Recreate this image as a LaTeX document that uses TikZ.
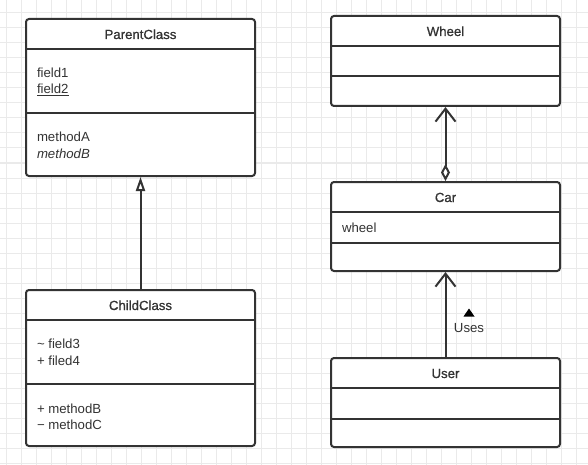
\documentclass[tikz,border=0pt]{standalone}
\usepackage{fontspec}
\setmainfont{Liberation Sans}
\newfontfamily\titlefont[FakeBold=0.8]{Liberation Sans}
\usepackage{xcolor}
\usepackage{tikz}
\usetikzlibrary{arrows.meta}
\usetikzlibrary{positioning}

\definecolor{umlgray}{RGB}{51,51,51}
\definecolor{gridgray}{RGB}{234,234,234}

\begin{document}
\begin{tikzpicture}[
  x=1pt, y=-1pt,
  line width=2pt,
  font=\fontsize{13.2}{16}\selectfont
]
\tikzset{
    classbox/.style = {rectangle, draw=umlgray, fill=white, rounded corners=3pt, minimum width=229pt, inner sep=0pt},
    divider/.style = {draw=umlgray, line width=2pt},
    classname/.style = {anchor=base, inner sep=0pt, text=umlgray, font=\titlefont\fontsize{13.2}{16}\selectfont},
    member/.style = {anchor=base west, inner sep=0pt, text=umlgray},
    gridline/.style = {draw=gridgray, line width=1pt},
    inherit/.style = {draw=umlgray, -{Triangle[open, length=14pt, width=9pt, fill=white]}},
    assoc/.style = {draw=umlgray, -{Straight Barb[length=13pt, width=20pt]}},
    aggr/.style = {draw=umlgray, {Diamond[open, length=17pt, width=9pt, fill=white]}-{Straight Barb[length=13pt, width=20pt]}},
}
\useasboundingbox (0,0) rectangle (588,465);
\fill[white] (0,0) rectangle (588,465);
% background grid
\foreach \gx in {6,21,...,576} { \draw[gridline] (\gx,0) -- (\gx,465); }
\foreach \gy in {13,28,...,463} { \draw[gridline] (0,\gy) -- (588,\gy); }

% ParentClass
\node[classbox, minimum height=157pt] (parent) at (140.5,97.5) {};
\draw[divider] (parent.west |- 0,49) -- (parent.east |- 0,49);
\draw[divider] (parent.west |- 0,113) -- (parent.east |- 0,113);
\node[classname] (parent-name) at (140.5,39) {ParentClass};
\node[member] (parent-f1) at (36,78) {field1};
\node[member] (parent-f2) at (36,94) {\underline{field2}};
\node[member] (parent-m1) at (36,142) {methodA};
\node[member] (parent-m2) at (36,158) {\itshape methodB};

% ChildClass
\node[classbox, minimum height=156pt] (child) at (140.5,368) {};
\draw[divider] (child.west |- 0,320) -- (child.east |- 0,320);
\draw[divider] (child.west |- 0,384) -- (child.east |- 0,384);
\node[classname] (child-name) at (140.5,310) {ChildClass};
\node[member] (child-f1) at (36,348) {\textasciitilde{} field3};
\node[member] (child-f2) at (36,365) {+ filed4};
\node[member] (child-m1) at (36,413) {+ methodB};
\node[member] (child-m2) at (36,429) {− methodC};

% Wheel
\node[classbox, minimum height=90pt] (wheel) at (445.5,61) {};
\draw[divider] (wheel.west |- 0,46) -- (wheel.east |- 0,46);
\draw[divider] (wheel.west |- 0,76) -- (wheel.east |- 0,76);
\node[classname] (wheel-name) at (445.5,36) {Wheel};

% Car
\node[classbox, minimum height=89pt] (car) at (445.5,226.5) {};
\draw[divider] (car.west |- 0,212) -- (car.east |- 0,212);
\draw[divider] (car.west |- 0,243) -- (car.east |- 0,243);
\node[classname] (car-name) at (445.5,202) {Car};
\node[member] (car-f1) at (341,232) {wheel};

% User
\node[classbox, minimum height=89pt] (user) at (445.5,402.5) {};
\draw[divider] (user.west |- 0,388) -- (user.east |- 0,388);
\draw[divider] (user.west |- 0,419) -- (user.east |- 0,419);
\node[classname] (user-name) at (445.5,378) {User};

% relations
\draw[inherit] (child) -- (parent);
\draw[aggr] (car) -- (wheel);
\draw[assoc] (user) -- (car);
\node[member, anchor=base] (uses) at (469,332) {Uses};
\fill[black] (463.5,316.5) -- (469,308.5) -- (474.5,316.5) -- cycle;
\end{tikzpicture}
\end{document}
